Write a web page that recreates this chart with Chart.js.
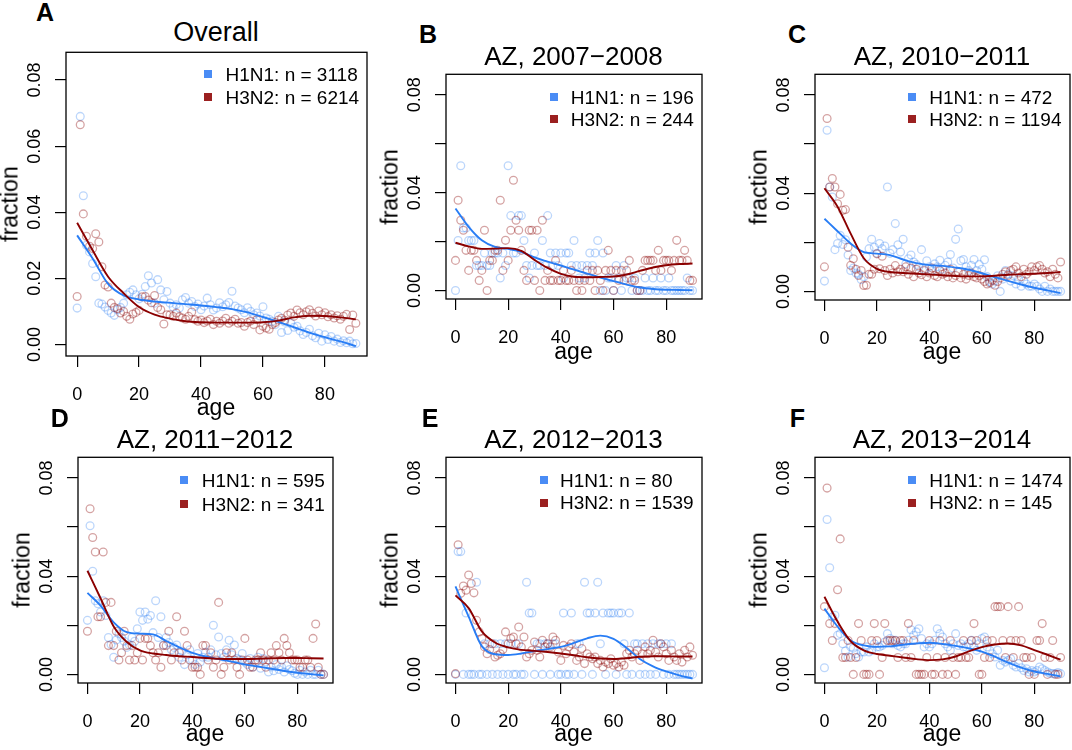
<!DOCTYPE html>
<html lang="en">
<head>
<meta charset="UTF-8">
<title>Age distribution of H1N1 and H3N2 cases</title>
<script src="https://cdn.jsdelivr.net/npm/chart.js"></script>
<style>
  body { margin: 0; background: #fff; }
  #fig { position: relative; width: 1072px; height: 750px; overflow: hidden; font-family: "Liberation Sans", Arial, sans-serif; }
  #fig canvas { position: absolute; }
  .t { position: absolute; white-space: nowrap; color: #000; }
  .sq { position: absolute; width: 8px; height: 8px; }
</style>
</head>
<body>
<div id="fig"></div>
<script>
// ---- data ----
const ages = [
  0, 1, 2, 3, 4, 5, 6, 7, 8, 9,
  10, 11, 12, 13, 14, 15, 16, 17, 18, 19,
  20, 21, 22, 23, 24, 25, 26, 27, 28, 29,
  30, 31, 32, 33, 34, 35, 36, 37, 38, 39,
  40, 41, 42, 43, 44, 45, 46, 47, 48, 49,
  50, 51, 52, 53, 54, 55, 56, 57, 58, 59,
  60, 61, 62, 63, 64, 65, 66, 67, 68, 69,
  70, 71, 72, 73, 74, 75, 76, 77, 78, 79,
  80, 81, 82, 83, 84, 85, 86, 87, 88, 89,
  90];
const fitAges = [0, 5, 10, 15, 20, 25, 30, 35, 40, 45, 50, 55, 60, 65, 70, 75, 80, 85, 90];
const xTicks = [0, 20, 40, 60, 80];
const yTicks = [0, 0.02, 0.04, 0.06, 0.08];

// A: overall (fractions)
const aH1 = [
  0.011, 0.069, 0.045, 0.030, 0.028, 0.0245, 0.0205, 0.0125, 0.0122, 0.0113,
  0.0103, 0.0095, 0.0088, 0.0105, 0.0112, 0.0125, 0.0150, 0.0158, 0.0165, 0.0150,
  0.0138, 0.0152, 0.0175, 0.0208, 0.0186, 0.0125, 0.0196, 0.0165, 0.0135, 0.0160,
  0.0125, 0.0113, 0.0120, 0.0110, 0.0135, 0.0142, 0.0125, 0.0130, 0.0115, 0.0122,
  0.0105, 0.0116, 0.0140, 0.0120, 0.0104, 0.0110, 0.0126, 0.0114, 0.0120, 0.0127,
  0.0161, 0.0116, 0.0110, 0.0105, 0.0096, 0.0111, 0.0100, 0.0090, 0.0095, 0.0086,
  0.0114, 0.0080, 0.0076, 0.0070, 0.0060, 0.0085, 0.0036, 0.0068, 0.0042, 0.0064,
  0.0052, 0.0055, 0.0041, 0.0030, 0.0036, 0.0046, 0.0026, 0.0020, 0.0034, 0.0010,
  0.0029, 0.0015, 0.0024, 0.0010, 0.0016, 0.0006, 0.0011, 0.0005, 0.0010, 0.0002,
  0.0003];
const aH3 = [
  0.0145, 0.0665, 0.0395, 0.0327, 0.0297, 0.0290, 0.0335, 0.0310, 0.0235, 0.0180,
  0.0174, 0.0125, 0.0112, 0.0108, 0.0095, 0.0100, 0.0085, 0.0076, 0.0092, 0.0097,
  0.0103, 0.0144, 0.0145, 0.0134, 0.0126, 0.0148, 0.0112, 0.0105, 0.0062, 0.0090,
  0.0090, 0.0085, 0.0095, 0.0084, 0.0080, 0.0076, 0.0085, 0.0098, 0.0075, 0.0070,
  0.0074, 0.0066, 0.0071, 0.0076, 0.0060, 0.0070, 0.0064, 0.0071, 0.0079, 0.0064,
  0.0070, 0.0076, 0.0064, 0.0066, 0.0055, 0.0066, 0.0071, 0.0060, 0.0075, 0.0044,
  0.0055, 0.0050, 0.0046, 0.0060, 0.0066, 0.0074, 0.0079, 0.0073, 0.0089, 0.0095,
  0.0085, 0.0104, 0.0096, 0.0090, 0.0099, 0.0105, 0.0094, 0.0086, 0.0101, 0.0090,
  0.0096, 0.0084, 0.0090, 0.0080, 0.0087, 0.0076, 0.0085, 0.0091, 0.0045, 0.0089,
  0.0064];
const aH1Fit = [0.0330, 0.0260, 0.0183, 0.0148, 0.0136, 0.0130, 0.0126, 0.0122, 0.0118, 0.0113,
  0.0107, 0.0097, 0.0083, 0.0068, 0.0052, 0.0036, 0.0022, 0.0009, -0.0005];
const aH3Fit = [0.0368, 0.0285, 0.0205, 0.0155, 0.0113, 0.0090, 0.0078, 0.0070, 0.0067, 0.0066,
  0.0066, 0.0066, 0.0067, 0.0072, 0.0082, 0.0087, 0.0086, 0.0082, 0.0076];

// B: AZ 2007-2008 (counts)
const bH1Counts = [
  0, 4, 10, 5, 5, 4, 4, 4, 2, 2,
  2, 3, 2, 2, 3, 3, 3, 1, 3, 2,
  10, 6, 3, 3, 6, 6, 4, 2, 1, 2,
  3, 2, 2, 4, 2, 6, 3, 2, 3, 2,
  3, 1, 3, 3, 2, 4, 2, 1, 2, 1,
  2, 3, 2, 3, 4, 0, 3, 0, 1, 1,
  0, 2, 1, 0, 2, 1, 1, 0, 1, 0,
  0, 0, 1, 0, 0, 1, 0, 0, 1, 0,
  0, 1, 0, 0, 0, 0, 0, 0, 1, 0,
  0];
const bH3Counts = [
  3, 9, 7, 6, 4, 2, 4, 4, 3, 1,
  2, 6, 0, 3, 3, 4, 4, 9, 2, 5,
  3, 6, 11, 7, 6, 4, 2, 1, 6, 6,
  1, 6, 0, 7, 1, 2, 1, 1, 3, 1,
  1, 2, 1, 1, 2, 1, 0, 1, 0, 1,
  2, 1, 2, 0, 2, 1, 0, 2, 4, 2,
  0, 2, 1, 2, 1, 2, 3, 1, 1, 0,
  0, 2, 3, 3, 3, 3, 2, 4, 2, 3,
  3, 3, 2, 3, 5, 3, 3, 4, 3, 1,
  1];
const bH1Fit = [0.0335, 0.0260, 0.0205, 0.0178, 0.0170, 0.0158, 0.0135, 0.0118, 0.0102, 0.0085,
  0.0069, 0.0053, 0.0038, 0.0024, 0.0012, 0.0006, 0.0003, 0.0002, 0.0001];
const bH3Fit = [0.0195, 0.0180, 0.0170, 0.0171, 0.0173, 0.0162, 0.0125, 0.0092, 0.0068, 0.0056,
  0.0054, 0.0055, 0.0057, 0.0065, 0.0080, 0.0094, 0.0103, 0.0108, 0.0110];

// C: AZ 2010-2011 (fractions)
const cH1 = [
  0.0042, 0.0656, 0.0425, 0.0384, 0.0170, 0.0195, 0.0228, 0.0191, 0.0210, 0.0148,
  0.0085, 0.0095, 0.0075, 0.0070, 0.0048, 0.0060, 0.0140, 0.0174, 0.0212, 0.0180,
  0.0155, 0.0195, 0.0174, 0.0185, 0.0425, 0.0155, 0.0170, 0.0276, 0.0190, 0.0160,
  0.0212, 0.0112, 0.0133, 0.0148, 0.0120, 0.0110, 0.0100, 0.0170, 0.0090, 0.0125,
  0.0100, 0.0085, 0.0112, 0.0100, 0.0127, 0.0090, 0.0106, 0.0120, 0.0150, 0.0095,
  0.0212, 0.0254, 0.0125, 0.0130, 0.0100, 0.0085, 0.0106, 0.0130, 0.0085, 0.0110,
  0.0090, 0.0129, 0.0060, 0.0040, 0.0030, 0.0042, 0.0064, 0.0000, 0.0050, 0.0085,
  0.0070, 0.0042, 0.0064, 0.0030, 0.0050, 0.0021, 0.0042, 0.0030, 0.0021, 0.0021,
  0.0030, 0.0021, 0.0010, 0.0000, 0.0021, 0.0000, 0.0010, 0.0000, 0.0000, 0.0000,
  0.0000];
const cH3 = [
  0.0100, 0.0704, 0.0425, 0.0460, 0.0425, 0.0357, 0.0395, 0.0330, 0.0333, 0.0180,
  0.0106, 0.0133, 0.0090, 0.0065, 0.0085, 0.0024, 0.0025, 0.0070, 0.0070, 0.0090,
  0.0153, 0.0092, 0.0143, 0.0085, 0.0065, 0.0090, 0.0075, 0.0105, 0.0080, 0.0090,
  0.0080, 0.0100, 0.0070, 0.0095, 0.0060, 0.0090, 0.0075, 0.0068, 0.0085, 0.0060,
  0.0075, 0.0095, 0.0065, 0.0060, 0.0085, 0.0070, 0.0075, 0.0060, 0.0090, 0.0055,
  0.0065, 0.0080, 0.0055, 0.0070, 0.0050, 0.0065, 0.0075, 0.0060, 0.0055, 0.0065,
  0.0050, 0.0040, 0.0030, 0.0035, 0.0045, 0.0025, 0.0040, 0.0055, 0.0070, 0.0080,
  0.0065, 0.0085, 0.0090, 0.0100, 0.0075, 0.0060, 0.0090, 0.0070, 0.0080, 0.0100,
  0.0085, 0.0100, 0.0105, 0.0090, 0.0075, 0.0080, 0.0060, 0.0090, 0.0070, 0.0055,
  0.0120];
const cH1Fit = [0.0296, 0.0245, 0.0195, 0.0160, 0.0154, 0.0148, 0.0130, 0.0115, 0.0107, 0.0104,
  0.0097, 0.0088, 0.0074, 0.0058, 0.0043, 0.0028, 0.0015, 0.0004, -0.0007];
const cH3Fit = [0.0420, 0.0345, 0.0235, 0.0135, 0.0092, 0.0079, 0.0075, 0.0072, 0.0069, 0.0066,
  0.0063, 0.0061, 0.0061, 0.0064, 0.0068, 0.0070, 0.0072, 0.0075, 0.0079];

// D: AZ 2011-2012 (H1N1 fractions, H3N2 counts)
const dH1 = [
  0.0220, 0.0605, 0.0420, 0.0300, 0.0288, 0.0254, 0.0300, 0.0240, 0.0150, 0.0122,
  0.0070, 0.0140, 0.0165, 0.0150, 0.0135, 0.0110, 0.0120, 0.0150, 0.0135, 0.0186,
  0.0254, 0.0220, 0.0254, 0.0225, 0.0240, 0.0170, 0.0300, 0.0150, 0.0235, 0.0120,
  0.0150, 0.0130, 0.0100, 0.0110, 0.0120, 0.0070, 0.0095, 0.0040, 0.0080, 0.0100,
  0.0060, 0.0040, 0.0085, 0.0050, 0.0070, 0.0090, 0.0070, 0.0100, 0.0200, 0.0080,
  0.0152, 0.0085, 0.0070, 0.0100, 0.0139, 0.0080, 0.0120, 0.0065, 0.0060, 0.0085,
  0.0050, 0.0040, 0.0065, 0.0030, 0.0050, 0.0070, 0.0025, 0.0065, 0.0050, 0.0010,
  0.0030, 0.0015, 0.0040, 0.0020, 0.0030, 0.0010, 0.0035, 0.0020, 0.0015, 0.0005,
  0.0000, 0.0017, 0.0000, 0.0010, 0.0000, 0.0017, 0.0000, 0.0000, 0.0017, 0.0000,
  0.0000];
const dH3Counts = [
  6, 23, 19, 17, 8, 8, 17, 10, 4, 10,
  4, 6, 2, 3, 6, 4, 2, 4, 2, 3,
  5, 2, 5, 5, 4, 3, 2, 3, 1, 4,
  4, 6, 2, 3, 8, 3, 2, 6, 4, 2,
  1, 1, 1, 0, 4, 4, 2, 3, 1, 2,
  10, 0, 1, 3, 2, 3, 2, 1, 0, 2,
  5, 2, 1, 1, 2, 2, 3, 2, 1, 2,
  3, 2, 4, 3, 2, 5, 4, 3, 2, 2,
  2, 1, 1, 2, 2, 1, 5, 7, 1, 0,
  0];
const dH1Fit = [0.0332, 0.0280, 0.0212, 0.0172, 0.0166, 0.0163, 0.0136, 0.0110, 0.0088, 0.0073,
  0.0062, 0.0052, 0.0041, 0.0032, 0.0023, 0.0014, 0.0007, 0.0001, -0.0004];
const dH3Fit = [0.0422, 0.0310, 0.0195, 0.0132, 0.0098, 0.0085, 0.0079, 0.0074, 0.0071, 0.0067,
  0.0064, 0.0063, 0.0063, 0.0064, 0.0066, 0.0067, 0.0067, 0.0066, 0.0065];

// E: AZ 2012-2013 (H1N1 counts, H3N2 fractions)
const eH1Counts = [
  0, 4, 4, 0, 2, 0, 0, 0, 3, 0,
  0, 1, 0, 1, 0, 1, 0, 1, 0, 1,
  0, 1, 0, 0, 1, 0, 0, 3, 2, 2,
  0, 1, 1, 0, 1, 1, 0, 1, 1, 0,
  0, 2, 0, 0, 2, 0, 1, 1, 0, 3,
  2, 2, 0, 2, 3, 1, 2, 0, 2, 2,
  2, 0, 2, 2, 1, 0, 2, 0, 1, 1,
  0, 1, 0, 1, 0, 1, 0, 1, 1, 0,
  1, 0, 1, 0, 0, 0, 0, 0, 0, 0,
  0];
const eH3 = [
  0.0003, 0.0528, 0.0330, 0.0360, 0.0343, 0.0405, 0.0370, 0.0332, 0.0220, 0.0173,
  0.0146, 0.0112, 0.0084, 0.0101, 0.0125, 0.0071, 0.0078, 0.0084, 0.0101, 0.0173,
  0.0125, 0.0146, 0.0152, 0.0125, 0.0193, 0.0112, 0.0152, 0.0071, 0.0084, 0.0098,
  0.0132, 0.0098, 0.0071, 0.0139, 0.0112, 0.0125, 0.0112, 0.0152, 0.0139, 0.0091,
  0.0057, 0.0118, 0.0084, 0.0112, 0.0125, 0.0091, 0.0057, 0.0071, 0.0105, 0.0044,
  0.0084, 0.0071, 0.0064, 0.0071, 0.0044, 0.0057, 0.0030, 0.0050, 0.0044, 0.0064,
  0.0037, 0.0044, 0.0030, 0.0050, 0.0037, 0.0084, 0.0098, 0.0071, 0.0084, 0.0098,
  0.0057, 0.0084, 0.0112, 0.0084, 0.0098, 0.0139, 0.0091, 0.0071, 0.0125, 0.0112,
  0.0084, 0.0057, 0.0098, 0.0071, 0.0057, 0.0084, 0.0050, 0.0098, 0.0071, 0.0112,
  0.0078];
const eH1Fit = [0.0358, 0.0235, 0.0115, 0.0082, 0.0079, 0.0085, 0.0095, 0.0103, 0.0112, 0.0128,
  0.0147, 0.0158, 0.0145, 0.0108, 0.0063, 0.0033, 0.0012, -0.0004, -0.0017];
const eH3Fit = [0.0322, 0.0270, 0.0175, 0.0130, 0.0110, 0.0100, 0.0096, 0.0091, 0.0085, 0.0078,
  0.0070, 0.0065, 0.0063, 0.0066, 0.0072, 0.0074, 0.0074, 0.0073, 0.0073];

// F: AZ 2013-2014 (H1N1 fractions, H3N2 counts)
const fH1 = [
  0.0027, 0.0631, 0.0434, 0.0234, 0.0241, 0.0159, 0.0166, 0.0125, 0.0095, 0.0071,
  0.0112, 0.0107, 0.0084, 0.0071, 0.0091, 0.0091, 0.0112, 0.0091, 0.0098, 0.0125,
  0.0112, 0.0112, 0.0118, 0.0132, 0.0166, 0.0146, 0.0125, 0.0139, 0.0118, 0.0112,
  0.0125, 0.0125, 0.0139, 0.0182, 0.0159, 0.0173, 0.0186, 0.0146, 0.0112, 0.0125,
  0.0112, 0.0125, 0.0139, 0.0186, 0.0166, 0.0152, 0.0125, 0.0112, 0.0098, 0.0125,
  0.0166, 0.0118, 0.0125, 0.0112, 0.0112, 0.0125, 0.0139, 0.0112, 0.0098, 0.0125,
  0.0146, 0.0152, 0.0112, 0.0098, 0.0084, 0.0071, 0.0098, 0.0037, 0.0057, 0.0050,
  0.0057, 0.0064, 0.0037, 0.0030, 0.0044, 0.0027, 0.0016, 0.0023, 0.0010, 0.0016,
  0.0010, 0.0016, 0.0030, 0.0023, 0.0016, 0.0010, 0.0005, 0.0003, 0.0003, 0.0008,
  0.0003];
const fH3Counts = [
  4, 11, 3, 2, 3, 5, 8, 1, 1, 2,
  1, 0, 1, 3, 2, 0, 0, 0, 2, 3,
  2, 0, 1, 3, 2, 2, 2, 2, 1, 2,
  2, 1, 3, 1, 2, 0, 0, 0, 0, 1,
  2, 0, 0, 1, 2, 0, 1, 0, 2, 1,
  0, 1, 1, 2, 1, 1, 2, 3, 2, 0,
  0, 1, 2, 1, 2, 4, 4, 4, 2, 1,
  4, 2, 1, 2, 4, 2, 1, 1, 0, 1,
  0, 2, 2, 3, 1, 0, 1, 2, 0, 0,
  1];
const fH1Fit = [0.0268, 0.0195, 0.0138, 0.0118, 0.0112, 0.0114, 0.0121, 0.0126, 0.0129, 0.0124,
  0.0116, 0.0106, 0.0093, 0.0072, 0.0048, 0.0028, 0.0012, 0.0002, -0.0008];
const fH3Fit = [0.0316, 0.0215, 0.0135, 0.0098, 0.0083, 0.0076, 0.0069, 0.0062, 0.0058, 0.0061,
  0.0073, 0.0094, 0.0111, 0.0122, 0.0126, 0.0118, 0.0099, 0.0080, 0.0060];

// ---- colours ----
const blueLine = 'rgb(40,125,245)';
const bluePts = 'rgba(70,140,245,0.36)';
const blueKey = '#4a8cf5';
const redLine = '#8b0000';
const redPts = 'rgba(139,0,0,0.36)';
const redKey = '#9b2020';

const panels = [
  { letter: 'A', title: 'Overall', n1: 3118, n3: 6214,
    h1: aH1, h3: aH3, h1Fit: aH1Fit, h3Fit: aH3Fit, yLabels: yTicks,
    box: [65, 52, 302, 304], titleSize: 27, titleBase: 42.3, letterX: 36, letterBase: 21,
    keyX: 208, keyTextX: 225.5, keyBase: [80.7, 104], fracX: 10.3, ageBase: 415 },
  { letter: 'B', title: 'AZ, 2007\u22122008', n1: 196, n3: 244,
    h1: bH1Counts.map(c => c / 196), h3: bH3Counts.map(c => c / 244), h1Fit: bH1Fit, h3Fit: bH3Fit,
    yLabels: [0, 0.04, 0.08],
    box: [445, 74, 257, 225], titleSize: 26, titleBase: 65, letterX: 419, letterBase: 43.5,
    keyX: 554, keyTextX: 570.7, keyBase: [104, 126], fracX: 390.3, ageBase: 359 },
  { letter: 'C', title: 'AZ, 2010\u22122011', n1: 472, n3: 1194,
    h1: cH1, h3: cH3, h1Fit: cH1Fit, h3Fit: cH3Fit, yLabels: [0, 0.04, 0.08],
    box: [814, 74, 256, 226], titleSize: 26, titleBase: 65, letterX: 788, letterBase: 43.5,
    keyX: 912, keyTextX: 929.3, keyBase: [104, 126], fracX: 759, ageBase: 359.5 },
  { letter: 'D', title: 'AZ, 2011\u22122012', n1: 595, n3: 341,
    h1: dH1, h3: dH3Counts.map(c => c / 341), h1Fit: dH1Fit, h3Fit: dH3Fit, yLabels: [0, 0.04, 0.08],
    box: [77, 457, 256, 226], titleSize: 26, titleBase: 448, letterX: 50.7, letterBase: 426.7,
    keyX: 184, keyTextX: 201.7, keyBase: [486.7, 510.7], fracX: 22, ageBase: 741 },
  { letter: 'E', title: 'AZ, 2012\u22122013', n1: 80, n3: 1539,
    h1: eH1Counts.map(c => c / 80), h3: eH3, h1Fit: eH1Fit, h3Fit: eH3Fit, yLabels: [0, 0.04, 0.08],
    box: [445, 457, 257, 226], titleSize: 26, titleBase: 448, letterX: 421.7, letterBase: 426.7,
    keyX: 543.7, keyTextX: 560, keyBase: [486.7, 509.3], fracX: 390.3, ageBase: 741 },
  { letter: 'F', title: 'AZ, 2013\u22122014', n1: 1474, n3: 145,
    h1: fH1, h3: fH3Counts.map(c => c / 145), h1Fit: fH1Fit, h3Fit: fH3Fit, yLabels: [0, 0.04, 0.08],
    box: [814, 457, 256, 226], titleSize: 26, titleBase: 448, letterX: 789.7, letterBase: 426.7,
    keyX: 912.3, keyTextX: 929.3, keyBase: [486.7, 509.3], fracX: 759, ageBase: 741 }
];

const FONT = '"Liberation Sans", Arial, Helvetica, sans-serif';
Chart.defaults.font.family = FONT;
const fig = document.getElementById('fig');

// frame box + rotated y tick labels (R style)
const framePlugin = {
  id: 'frame',
  afterDraw(chart, args, opts) {
    const { ctx, chartArea: a } = chart;
    const y = chart.scales.y;
    ctx.save();
    ctx.strokeStyle = '#000';
    ctx.lineWidth = 1.3;
    ctx.strokeRect(a.left, a.top, a.right - a.left, a.bottom - a.top);
    ctx.fillStyle = '#000';
    ctx.font = '18px ' + FONT;
    ctx.textAlign = 'center';
    ctx.textBaseline = 'alphabetic';
    opts.labels.forEach(v => {
      ctx.save();
      ctx.translate(a.left - 26, y.getPixelForValue(v));
      ctx.rotate(-Math.PI / 2);
      ctx.fillText(v.toFixed(2), 0, 0);
      ctx.restore();
    });
    ctx.restore();
  }
};

function text(str, x, base, size, opt) {
  opt = opt || {};
  const d = document.createElement('div');
  d.className = 't';
  d.textContent = str;
  d.style.fontSize = size + 'px';
  d.style.lineHeight = size + 'px';
  d.style.left = x + 'px';
  d.style.top = (base - 0.8465 * size) + 'px';
  if (opt.bold) d.style.fontWeight = 'bold';
  if (opt.center) d.style.transform = 'translateX(-50%)';
  fig.appendChild(d);
}

function vtext(str, cx, cy, size) {
  const d = document.createElement('div');
  d.className = 't';
  d.textContent = str;
  d.style.fontSize = size + 'px';
  d.style.lineHeight = size + 'px';
  d.style.left = cx + 'px';
  d.style.top = cy + 'px';
  d.style.transform = 'translate(-50%,-50%) rotate(-90deg)';
  fig.appendChild(d);
}

function square(cx, cy, color) {
  const s = document.createElement('div');
  s.className = 'sq';
  s.style.left = (cx - 4) + 'px';
  s.style.top = (cy - 4) + 'px';
  s.style.background = color;
  fig.appendChild(s);
}

function pts(vals) {
  return ages.map((a, i) => ({ x: a, y: vals[i] }));
}
function fit(vals) {
  return fitAges.map((a, i) => ({ x: a, y: vals[i] }));
}

panels.forEach(p => {
  const [bx, by, bw, bh] = p.box;
  const cv = document.createElement('canvas');
  const cw = bw + 80, ch = bh + 60;
  cv.width = cw; cv.height = ch;
  cv.style.width = cw + 'px'; cv.style.height = ch + 'px';
  cv.style.left = (bx - 70) + 'px';
  cv.style.top = (by - 5) + 'px';
  fig.appendChild(cv);

  new Chart(cv, {
    type: 'scatter',
    data: {
      datasets: [
        { data: pts(p.h1), borderColor: bluePts, backgroundColor: 'rgba(0,0,0,0)',
          pointRadius: 3.9, borderWidth: 1.3, order: 4 },
        { data: pts(p.h3), borderColor: redPts, backgroundColor: 'rgba(0,0,0,0)',
          pointRadius: 3.9, borderWidth: 1.3, order: 3 },
        { type: 'line', data: fit(p.h1Fit), borderColor: blueLine, borderWidth: 1.9,
          pointRadius: 0, cubicInterpolationMode: 'monotone', fill: false, order: 2 },
        { type: 'line', data: fit(p.h3Fit), borderColor: redLine, borderWidth: 1.9,
          pointRadius: 0, cubicInterpolationMode: 'monotone', fill: false, order: 1 }
      ]
    },
    options: {
      responsive: false,
      animation: false,
      devicePixelRatio: 1,
      layout: { padding: { left: 60, top: 5, right: 10, bottom: 0 } },
      plugins: { legend: { display: false }, tooltip: { enabled: false }, frame: { labels: p.yLabels } },
      scales: {
        x: {
          type: 'linear', min: -3.6, max: 93.6,
          afterBuildTicks: s => { s.ticks = xTicks.map(v => ({ value: v })); },
          afterFit: s => { s.height = 55; },
          ticks: { color: '#000', font: { size: 18 }, padding: 17, maxRotation: 0 },
          grid: { drawOnChartArea: false, drawTicks: true, tickLength: 11, color: '#000', lineWidth: 1.2 },
          border: { display: false }
        },
        y: {
          type: 'linear', min: -0.0035, max: 0.0884,
          afterBuildTicks: s => { s.ticks = yTicks.map(v => ({ value: v })); },
          afterFit: s => { s.width = 11; },
          ticks: { display: false },
          grid: { drawOnChartArea: false, drawTicks: true, tickLength: 11, color: '#000', lineWidth: 1.2 },
          border: { display: false }
        }
      }
    },
    plugins: [framePlugin]
  });

  // labels
  const midX = bx + bw / 2;
  text(p.letter, p.letterX, p.letterBase, 25, { bold: true });
  text(p.title, midX, p.titleBase, p.titleSize, { center: true });
  vtext('fraction', p.fracX, by + bh / 2, 23);
  text('age', midX, p.ageBase, 23, { center: true });
  square(p.keyX, p.keyBase[0] - 6.8, blueKey);
  square(p.keyX, p.keyBase[1] - 6.8, redKey);
  text('H1N1: n = ' + p.n1, p.keyTextX, p.keyBase[0], 19);
  text('H3N2: n = ' + p.n3, p.keyTextX, p.keyBase[1], 19);
});
</script>
</body>
</html>
